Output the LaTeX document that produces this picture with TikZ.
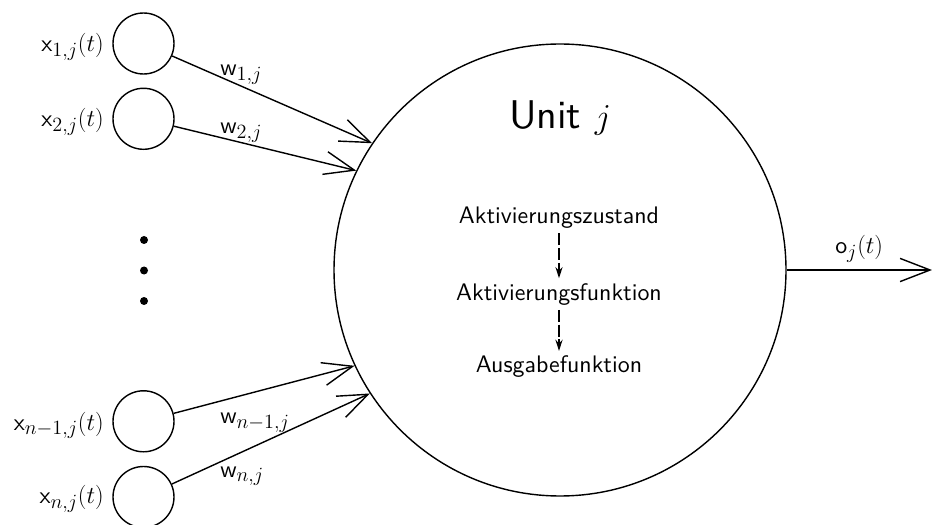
\documentclass[tikz,border=0pt]{standalone}
\usepackage{amsmath}
\usepackage{fontspec}
\setsansfont{lmsans10-regular.otf}
\DeclareMathSizes{17}{17}{14.5}{11}
\usepackage{tikz}
\usetikzlibrary{arrows.meta,positioning}
\tikzstyle{every node}=[font=\sffamily\fontsize{17}{20}\selectfont]
\tikzstyle{input}=[circle,draw,line width=1pt,minimum size=1.525cm,inner sep=0pt]
\tikzstyle{unit}=[circle,draw,line width=1pt,minimum size=11.3cm,inner sep=0pt]
\tikzstyle{lbl}=[inner sep=0pt]
\tikzstyle{weight}=[line width=1pt,-{Straight Barb[length=7.5mm,width=5.8mm,line width=1pt]}]
\tikzstyle{flow}=[line width=1pt,dash pattern=on 3mm off 0.7mm,-{Stealth[length=2.8mm,width=1.8mm]}]

\begin{document}
\begin{tikzpicture}
\useasboundingbox (0,0) rectangle (23.3,13.1);
% the unit
\node[unit] (unit) at (14.0,6.35) {};
\node[anchor=base] (name) at (14.0,9.875) {\fontsize{28.5}{34}\selectfont Unit $j$};
\node[anchor=base] (zust) at (13.975,7.5175) {Aktivierungszustand};
\node[anchor=base] (akt) at (13.975,5.6) {Aktivierungsfunktion};
\node[anchor=base] (ausg) at (13.975,3.7825) {Ausgabefunktion};
\draw[flow] (zust) -- (akt);
\draw[flow] (akt) -- (ausg);
% inputs
\node[input] (x1) at (3.5875,12.0125) {};
\node[input] (x2) at (3.5875,10.13) {};
\node[input] (xm) at (3.5875,2.5675) {};
\node[input] (xn) at (3.5875,0.675) {};
\node[lbl,anchor=base east] (lx1) at (2.6,11.8075) {x$_{1,j}(t)$};
\node[lbl,anchor=base east] (lx2) at (2.6,9.9325) {x$_{2,j}(t)$};
\node[lbl,anchor=base east] (lxm) at (2.6,2.35) {x$_{n-1,j}(t)$};
\node[lbl,anchor=base east] (lxn) at (2.6,0.5175) {x$_{n,j}(t)$};
\fill (3.6,7.1) circle (0.1);
\fill (3.6,6.3375) circle (0.1);
\fill (3.6,5.575) circle (0.1);
% weights
\draw[weight] (x1) -- (unit.146.5);
\draw[weight] (x2) -- (unit.154.3);
\draw[weight] (xm) -- (unit.205.7);
\draw[weight] (xn) -- (unit.213.5);
\node[lbl,anchor=base west] (w1) at (5.5,11.2) {w$_{1,j}$};
\node[lbl,anchor=base west] (w2) at (5.5,9.77) {w$_{2,j}$};
\node[lbl,anchor=base west] (wm) at (5.5,2.5175) {w$_{n-1,j}$};
\node[lbl,anchor=base west] (wn) at (5.5,1.175) {w$_{n,j}$};
% output
\coordinate (out) at (23.3,6.35);
\draw[weight] (unit.east) -- (out);
\node[lbl,anchor=base west] (o) at (20.875,6.7675) {o$_j(t)$};
\end{tikzpicture}
\end{document}
